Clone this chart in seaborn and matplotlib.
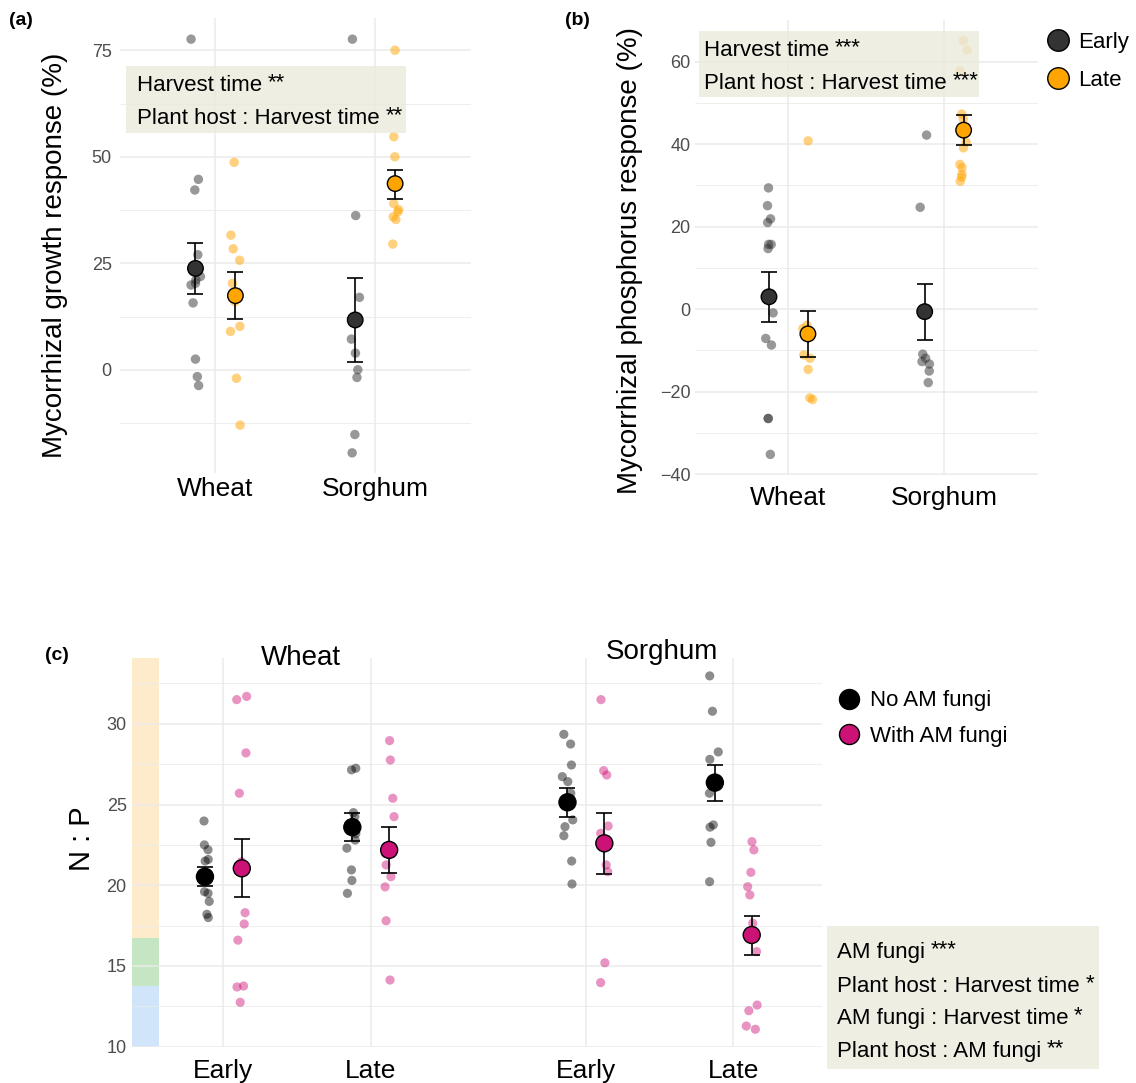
import numpy as np
import pandas as pd
import matplotlib
matplotlib.use("Agg")
import matplotlib.pyplot as plt
import seaborn as sns
from matplotlib.lines import Line2D
from matplotlib.patches import Rectangle
from matplotlib.ticker import FixedLocator

# ---------------- data ----------------
hosts = ["Wheat", "Sorghum"]
times = ["Early", "Late"]
fungi = ["No AM fungi", "With AM fungi"]

# (a) Mycorrhizal growth response (%)
growth_wheat_early = [77.6, 44.7, 42.2, 27.0, 21.9, 21.1, 20.3, 19.9, 15.7, 2.5, -1.6, -3.7]
growth_wheat_late = [48.7, 31.6, 28.4, 25.7, 20.3, 16.0, 10.2, 9.0, -2.0, -13.0]
growth_sorghum_early = [77.6, 36.2, 17.0, 7.2, 3.9, 0.0, -1.8, -15.2, -19.5]
growth_sorghum_late = [75.0, 54.7, 50.0, 39.0, 37.6, 37.1, 35.9, 35.3, 29.5]
growth_mean = [23.8, 17.4, 11.7, 43.7]      # Wheat-Early, Wheat-Late, Sorghum-Early, Sorghum-Late
growth_low = [17.8, 11.9, 1.8, 40.1]
growth_high = [29.8, 23.0, 21.6, 47.0]

# (b) Mycorrhizal phosphorus response (%)
phos_wheat_early = [29.4, 25.1, 21.9, 21.0, 15.7, 15.7, 14.7, -0.9, -7.1, -8.7, -26.5, -26.5, -35.2]
phos_wheat_late = [40.8, -3.9, -4.7, -11.1, -11.9, -14.6, -21.5, -21.9]
phos_sorghum_early = [42.2, 24.7, -10.9, -11.9, -12.7, -13.3, -15.0, -17.8]
phos_sorghum_late = [65.1, 62.8, 57.8, 47.3, 46.1, 40.5, 39.1, 35.1, 34.3, 32.7, 32.0, 31.0]
phos_mean = [3.0, -6.0, -0.6, 43.4]
phos_low = [-3.1, -11.5, -7.5, 39.9]
phos_high = [9.0, -0.4, 6.2, 47.1]

# (c) N : P
np_wheat_early_no = [23.98, 22.5, 22.2, 21.6, 21.5, 19.6, 19.5, 19.0, 18.2, 18.0]
np_wheat_early_am = [31.7, 31.5, 28.2, 25.7, 21.46, 18.3, 17.6, 16.6, 13.76, 13.7, 12.75]
np_wheat_late_no = [27.25, 27.15, 24.5, 24.25, 23.2, 22.8, 22.3, 20.95, 20.3, 19.5]
np_wheat_late_am = [28.96, 27.76, 25.39, 24.25, 21.98, 21.26, 20.53, 19.9, 17.8, 14.13]
np_sorghum_early_no = [29.35, 28.75, 27.45, 26.73, 26.42, 25.7, 24.05, 23.63, 23.07, 21.5, 20.08]
np_sorghum_early_am = [31.5, 27.1, 26.83, 23.67, 23.22, 21.26, 20.84, 15.2, 13.97]
np_sorghum_late_no = [32.97, 30.78, 28.26, 27.8, 25.7, 23.74, 23.6, 22.66, 20.22]
np_sorghum_late_am = [22.7, 22.19, 20.8, 19.91, 19.4, 17.65, 15.89, 12.58, 12.23, 11.28, 11.08]
# order: (Wheat,Early,No), (Wheat,Early,AM), (Wheat,Late,No), (Wheat,Late,AM), (Sorghum,...)
np_mean = [20.53, 21.05, 23.6, 22.19, 25.14, 22.6, 26.36, 16.92]
np_low = [19.97, 19.26, 22.76, 20.74, 24.25, 20.7, 25.24, 15.68]
np_high = [21.15, 22.85, 24.46, 23.6, 26.05, 24.5, 27.45, 18.1]
np_thresholds = [13.75, 16.75]

stats_a = ["Harvest time", "Plant host : Harvest time"]
stars_a = ["**", "**"]
stats_b = ["Harvest time", "Plant host : Harvest time"]
stars_b = ["***", "***"]
stats_c = ["AM fungi", "Plant host : Harvest time", "AM fungi : Harvest time", "Plant host : AM fungi"]
stars_c = ["***", "*", "*", "**"]

# ---------------- style ----------------
sns.set_style("white")
plt.rcParams["font.family"] = ["Liberation Sans", "DejaVu Sans"]
plt.rcParams["axes.unicode_minus"] = True
plt.rcParams["text.color"] = "black"
plt.rcParams["axes.labelcolor"] = "black"
np.random.seed(7)

W, H = 1136, 1083
fig = plt.figure(figsize=(W / 100, H / 100), dpi=100)


def px_axes(l, t, r, b):
    return fig.add_axes([l / W, 1 - b / H, (r - l) / W, (b - t) / H])


GRID = "#EBEBEB"
TICKC = "#4D4D4D"
time_pal = {"Early": "#333333", "Late": "#FFA500"}
fungi_pal = {"No AM fungi": "#000000", "With AM fungi": "#CC1177"}
DODGE = 0.125


def style_axis(ax, major, minor, ylab, ypad, xpad, label_xy):
    ax.yaxis.set_major_locator(FixedLocator(major))
    ax.yaxis.set_minor_locator(FixedLocator(minor))
    ax.grid(which="major", axis="both", color=GRID, lw=1.1)
    ax.grid(which="minor", axis="y", color=GRID, lw=0.6)
    ax.set_axisbelow(True)
    sns.despine(ax=ax, left=True, bottom=True, top=True, right=True)
    ax.tick_params(axis="both", which="both", length=0)
    ax.tick_params(axis="y", labelsize=13, labelcolor=TICKC, pad=ypad)
    ax.tick_params(axis="x", labelsize=19, labelcolor="black", pad=xpad)
    ax.set_xlabel("")
    ax.set_ylabel(ylab, fontsize=20, color="black")
    ax.yaxis.set_label_coords(*label_xy)


def response_panel(ax, series, means, lows, highs, ylim, major, minor, ylab, ypad, xpad, label_xy):
    rows = []
    for hi_, host in enumerate(hosts):
        for ti, t in enumerate(times):
            for v in series[(host, t)]:
                rows.append((host, t, hi_ + (2 * ti - 1) * DODGE, v))
    df = pd.DataFrame(rows, columns=["host", "time", "xpos", "value"])
    sns.stripplot(data=df, x="xpos", y="value", hue="time", hue_order=times, palette=time_pal,
                  native_scale=True, jitter=0.13, size=6.8, alpha=0.5, linewidth=0,
                  legend=False, ax=ax, zorder=2)
    mrows = []
    k = 0
    for hi_, host in enumerate(hosts):
        for ti, t in enumerate(times):
            mrows.append((host, t, hi_ + (2 * ti - 1) * DODGE, means[k], lows[k], highs[k]))
            k += 1
    mdf = pd.DataFrame(mrows, columns=["host", "time", "xpos", "mean", "lo", "hi"])
    ax.errorbar(mdf["xpos"], mdf["mean"], yerr=[mdf["mean"] - mdf["lo"], mdf["hi"] - mdf["mean"]],
                fmt="none", ecolor="black", elinewidth=1.2, capsize=5.5, capthick=1.2, zorder=3)
    sns.scatterplot(data=mdf, x="xpos", y="mean", hue="time", hue_order=times, palette=time_pal,
                    s=125, edgecolor="black", linewidth=1.0, legend=False, ax=ax, zorder=4)
    ax.set_xlim(-0.6, 1.6)
    ax.set_ylim(*ylim)
    ax.set_xticks([0, 1])
    ax.set_xticklabels(hosts)
    style_axis(ax, major, minor, ylab, ypad, xpad, label_xy)


# ---------------- panel (a) ----------------
axA = px_axes(119.6, 18.3, 471.0, 473.3)
response_panel(axA,
               {("Wheat", "Early"): growth_wheat_early, ("Wheat", "Late"): growth_wheat_late,
                ("Sorghum", "Early"): growth_sorghum_early, ("Sorghum", "Late"): growth_sorghum_late},
               growth_mean, growth_low, growth_high, (-24.3, 82.5),
               [0, 25, 50, 75], [-12.5, 12.5, 37.5, 62.5],
               "Mycorrhizal growth response (%)", 5.6, 3.0, (-0.147, 0.48))

# ---------------- panel (b) ----------------
axB = px_axes(695.0, 20.0, 1037.6, 475.0)
response_panel(axB,
               {("Wheat", "Early"): phos_wheat_early, ("Wheat", "Late"): phos_wheat_late,
                ("Sorghum", "Early"): phos_sorghum_early, ("Sorghum", "Late"): phos_sorghum_late},
               phos_mean, phos_low, phos_high, (-40.2, 70.1),
               [-40, -20, 0, 20, 40, 60], [-30, -10, 10, 30, 50],
               "Mycorrhizal phosphorus response (%)", 3.3, 8.0, (-0.153, 0.4725))

# ---------------- panel (c) ----------------
axC = px_axes(132.0, 658.3, 821.7, 1046.7)
host_shift = {"Wheat": 0.0, "Sorghum": 2.46}
np_series = {
    ("Wheat", "Early", "No AM fungi"): np_wheat_early_no,
    ("Wheat", "Early", "With AM fungi"): np_wheat_early_am,
    ("Wheat", "Late", "No AM fungi"): np_wheat_late_no,
    ("Wheat", "Late", "With AM fungi"): np_wheat_late_am,
    ("Sorghum", "Early", "No AM fungi"): np_sorghum_early_no,
    ("Sorghum", "Early", "With AM fungi"): np_sorghum_early_am,
    ("Sorghum", "Late", "No AM fungi"): np_sorghum_late_no,
    ("Sorghum", "Late", "With AM fungi"): np_sorghum_late_am,
}
rows, mrows = [], []
k = 0
for host in hosts:
    for ti, t in enumerate(times):
        for fi, f in enumerate(fungi):
            xp = host_shift[host] + ti + (2 * fi - 1) * DODGE
            for v in np_series[(host, t, f)]:
                rows.append((host, t, f, xp, v))
            mrows.append((host, t, f, xp, np_mean[k], np_low[k], np_high[k]))
            k += 1
dfc = pd.DataFrame(rows, columns=["host", "time", "fungi", "xpos", "value"])
mdfc = pd.DataFrame(mrows, columns=["host", "time", "fungi", "xpos", "mean", "lo", "hi"])

sns.stripplot(data=dfc, x="xpos", y="value", hue="fungi", hue_order=fungi, palette=fungi_pal,
              native_scale=True, jitter=0.15, size=6.6, alpha=0.45, linewidth=0,
              legend=False, ax=axC, zorder=2)
axC.errorbar(mdfc["xpos"], mdfc["mean"], yerr=[mdfc["mean"] - mdfc["lo"], mdfc["hi"] - mdfc["mean"]],
             fmt="none", ecolor="black", elinewidth=1.2, capsize=5.5, capthick=1.2, zorder=3)
sns.scatterplot(data=mdfc, x="xpos", y="mean", hue="fungi", hue_order=fungi, palette=fungi_pal,
                s=150, edgecolor="black", linewidth=1.0, legend=False, ax=axC, zorder=4)

xl0 = -0.62
axC.set_xlim(xl0, 3.46 + 0.6)
axC.set_ylim(10, 34.06)
band_right = -0.4365
band_edges = [10] + np_thresholds + [34.06]
band_cols = ["#D1E5FA", "#C5E6C3", "#FDEBCB"]
for i, c in enumerate(band_cols):
    axC.add_patch(Rectangle((xl0, band_edges[i]), band_right - xl0, band_edges[i + 1] - band_edges[i],
                            facecolor=c, edgecolor="none", zorder=0.3))
xt = [host_shift[h] + ti for h in hosts for ti in range(len(times))]
axC.set_xticks(xt)
axC.set_xticklabels([t for h in hosts for t in times])
style_axis(axC, [10, 15, 20, 25, 30], [12.5, 17.5, 22.5, 27.5, 32.5], "N : P", 3.8, 9.0, (-0.052, 0.535))
axC.yaxis.label.set_fontsize(21)

fig.text(301.3 / W, 1 - 665 / H, "Wheat", ha="center", va="baseline", fontsize=20)
fig.text(661.7 / W, 1 - 659 / H, "Sorghum", ha="center", va="baseline", fontsize=20)

# ---------------- legends ----------------
h_time = [Line2D([], [], ls="none", marker="o", markersize=15.5, markerfacecolor=time_pal[t],
                 markeredgecolor="black", markeredgewidth=1.0) for t in times]
fig.legend(h_time, times, loc="center left", bbox_to_anchor=(1047 / W, 1 - 61.2 / H), frameon=False,
           fontsize=16, handlelength=1.0, handletextpad=0.4, labelspacing=0.75, borderpad=0,
           borderaxespad=0)
h_fungi = [Line2D([], [], ls="none", marker="o", markersize=14.4, markerfacecolor=fungi_pal[f],
                  markeredgecolor="black", markeredgewidth=1.0) for f in fungi]
fig.legend(h_fungi, fungi, loc="center left", bbox_to_anchor=(838 / W, 1 - 718.5 / H), frameon=False,
           fontsize=16, handlelength=1.0, handletextpad=0.45, labelspacing=0.65, borderpad=0,
           borderaxespad=0)

# ---------------- panel tags ----------------
fig.text(9 / W, 1 - 12 / H, "(a)", fontsize=14, fontweight="bold", va="top", ha="left")
fig.text(565.5 / W, 1 - 12 / H, "(b)", fontsize=14, fontweight="bold", va="top", ha="left")
fig.text(45 / W, 1 - 647 / H, "(c)", fontsize=14, fontweight="bold", va="top", ha="left")

# ---------------- stats boxes ----------------
def stats_box(l, t, r, b, text_x, baselines, lines, stars):
    fig.add_artist(Rectangle((l / W, 1 - b / H), (r - l) / W, (b - t) / H, transform=fig.transFigure,
                             facecolor="#EAEADC", alpha=0.8, edgecolor="none", zorder=5))
    out = []
    for bl, line, st in zip(baselines, lines, stars):
        tx = fig.text(text_x / W, 1 - bl / H, line, fontsize=16, ha="left", va="baseline", zorder=6)
        out.append((tx, st))
    return out


pending = []
pending += stats_box(126, 66, 406.4, 133, 137, [90.7, 124.3], stats_a, stars_a)
pending += stats_box(698.9, 30.7, 978.8, 96.7, 704, [56, 89.3], stats_b, stars_b)
pending += stats_box(827, 926, 1099, 1069, 836.7, [958.3, 991.7, 1024, 1057.3], stats_c, stars_c)

fig.canvas.draw()
renderer = fig.canvas.get_renderer()
for tx, st in pending:
    bb = tx.get_window_extent(renderer)
    fig.text((bb.x1 + 6) / W, (bb.y1 + 3) / H, st, fontsize=16, ha="left", va="top", zorder=6)

fig.savefig("out.png", dpi=100)
